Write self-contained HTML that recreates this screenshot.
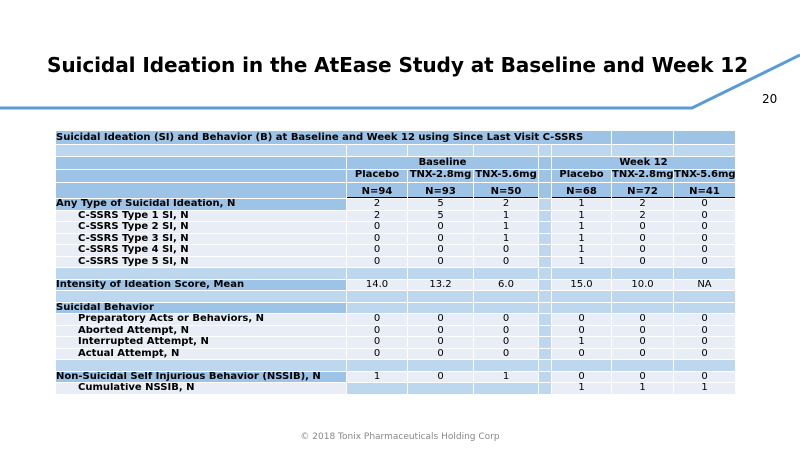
<!DOCTYPE html>
<html><head><meta charset="utf-8"><style>
body{margin:0;width:800px;height:449px;background:#fff;position:relative;overflow:hidden;font-family:"DejaVu Sans","Liberation Sans",sans-serif}
.t{position:absolute;left:0;width:795px;top:53px;text-align:center;font-weight:bold;font-size:20.1px;color:#000;letter-spacing:-0.1px}
.pg{position:absolute;left:762px;top:92px;font-size:12px}
.ft{position:absolute;left:0;width:800px;top:432px;text-align:center;font-size:9px;color:#888}
.g{position:absolute;left:56px;top:131px;display:grid;grid-template-columns:290px 60px 65px 64px 12px 59px 61px 61px;grid-template-rows:13px 11px 12px 12px 15px repeat(17,10.5px);gap:1px;background:#fff;font-size:10px;font-weight:bold;color:#000}
.g div{overflow:hidden;white-space:nowrap;line-height:10.5px}
.d{background:#9dc3e6}.l{background:#bdd7ee}.w{background:#e9edf5}
.c{text-align:center}.n{font-weight:normal;text-align:center}
.i{padding-left:22px}
.b{border-bottom:1px solid #000;box-sizing:border-box;display:flex;align-items:flex-end;justify-content:center}
</style></head><body>
<svg style="position:absolute;left:0;top:0" width="800" height="449"><polyline points="0,108 692,108 800,55" fill="none" stroke="#5b9bd5" stroke-width="3"/></svg>
<div class="t">Suicidal Ideation in the AtEase Study at Baseline and Week 12</div>
<div class="pg">20</div>
<div class="g">
<div class="d" style="grid-column:1/7;line-height:13px">Suicidal Ideation (SI) and Behavior (B) at Baseline and Week 12 using Since Last Visit C-SSRS</div><div class="d"></div><div class="d"></div>
<div class="l"></div><div class="l"></div><div class="l"></div><div class="l"></div><div class="l"></div><div class="l"></div><div class="l"></div><div class="l"></div>
<div class="d"></div><div class="d c" style="grid-column:2/5;line-height:12px">Baseline</div><div class="d"></div><div class="d c" style="grid-column:6/9;line-height:12px">Week 12</div>
<div class="d"></div><div class="d c">Placebo</div><div class="d c">TNX-2.8mg</div><div class="d c">TNX-5.6mg</div><div class="d"></div><div class="d c">Placebo</div><div class="d c">TNX-2.8mg</div><div class="d c">TNX-5.6mg</div>
<div class="d"></div><div class="d b">N=94</div><div class="d b">N=93</div><div class="d b">N=50</div><div class="d"></div><div class="d b">N=68</div><div class="d b">N=72</div><div class="d b">N=41</div>

<div class="d">Any Type of Suicidal Ideation, N</div><div class="w n">2</div><div class="w n">5</div><div class="w n">2</div><div class="l"></div><div class="w n">1</div><div class="w n">2</div><div class="w n">0</div>
<div class="w i">C-SSRS Type 1 SI, N</div><div class="w n">2</div><div class="w n">5</div><div class="w n">1</div><div class="l"></div><div class="w n">1</div><div class="w n">2</div><div class="w n">0</div>
<div class="w i">C-SSRS Type 2 SI, N</div><div class="w n">0</div><div class="w n">0</div><div class="w n">1</div><div class="l"></div><div class="w n">1</div><div class="w n">0</div><div class="w n">0</div>
<div class="w i">C-SSRS Type 3 SI, N</div><div class="w n">0</div><div class="w n">0</div><div class="w n">1</div><div class="l"></div><div class="w n">1</div><div class="w n">0</div><div class="w n">0</div>
<div class="w i">C-SSRS Type 4 SI, N</div><div class="w n">0</div><div class="w n">0</div><div class="w n">0</div><div class="l"></div><div class="w n">1</div><div class="w n">0</div><div class="w n">0</div>
<div class="w i">C-SSRS Type 5 SI, N</div><div class="w n">0</div><div class="w n">0</div><div class="w n">0</div><div class="l"></div><div class="w n">1</div><div class="w n">0</div><div class="w n">0</div>
<div class="l"></div><div class="l"></div><div class="l"></div><div class="l"></div><div class="l"></div><div class="l"></div><div class="l"></div><div class="l"></div>
<div class="d">Intensity of Ideation Score, Mean</div><div class="w n">14.0</div><div class="w n">13.2</div><div class="w n">6.0</div><div class="l"></div><div class="w n">15.0</div><div class="w n">10.0</div><div class="w n">NA</div>
<div class="l"></div><div class="l"></div><div class="l"></div><div class="l"></div><div class="l"></div><div class="l"></div><div class="l"></div><div class="l"></div>
<div class="d">Suicidal Behavior</div><div class="l"></div><div class="l"></div><div class="l"></div><div class="l"></div><div class="l"></div><div class="l"></div><div class="l"></div>
<div class="w i">Preparatory Acts or Behaviors, N</div><div class="w n">0</div><div class="w n">0</div><div class="w n">0</div><div class="l"></div><div class="w n">0</div><div class="w n">0</div><div class="w n">0</div>
<div class="w i">Aborted Attempt, N</div><div class="w n">0</div><div class="w n">0</div><div class="w n">0</div><div class="l"></div><div class="w n">0</div><div class="w n">0</div><div class="w n">0</div>
<div class="w i">Interrupted Attempt, N</div><div class="w n">0</div><div class="w n">0</div><div class="w n">0</div><div class="l"></div><div class="w n">1</div><div class="w n">0</div><div class="w n">0</div>
<div class="w i">Actual Attempt, N</div><div class="w n">0</div><div class="w n">0</div><div class="w n">0</div><div class="l"></div><div class="w n">0</div><div class="w n">0</div><div class="w n">0</div>
<div class="l"></div><div class="l"></div><div class="l"></div><div class="l"></div><div class="l"></div><div class="l"></div><div class="l"></div><div class="l"></div>
<div class="d">Non-Suicidal Self Injurious Behavior (NSSIB), N</div><div class="w n">1</div><div class="w n">0</div><div class="w n">1</div><div class="l"></div><div class="w n">0</div><div class="w n">0</div><div class="w n">0</div>
<div class="w i">Cumulative NSSIB, N</div><div class="l"></div><div class="l"></div><div class="l"></div><div class="l"></div><div class="w n">1</div><div class="w n">1</div><div class="w n">1</div>
</div>
<div class="ft">© 2018 Tonix Pharmaceuticals Holding Corp</div>
</body></html>
